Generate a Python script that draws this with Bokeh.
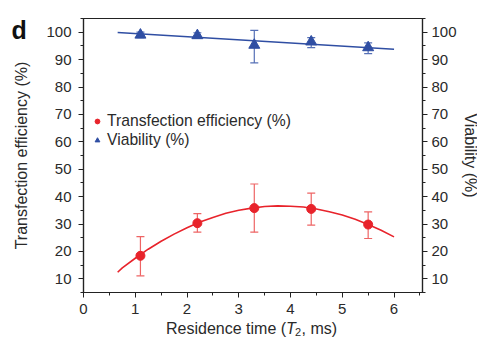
import math
from bokeh.plotting import figure
from bokeh.models import (Range1d, LinearAxis, Whisker, TeeHead, ColumnDataSource,
                          Legend, LegendItem, Label, FixedTicker)
from bokeh.embed import file_html
from bokeh.resources import INLINE

# data
times = [1.1, 2.2, 3.3, 4.4, 5.5]
transfection = [18.4, 30.3, 35.8, 35.5, 29.8]
transfection_upper = [25.4, 33.8, 44.6, 41.3, 34.4]
transfection_lower = [11.1, 27.0, 27.0, 29.6, 24.7]
viability = [99.0, 98.8, 95.3, 96.5, 94.4]
viability_upper = [100.0, 99.8, 100.7, 98.0, 96.1]
viability_lower = [98.0, 97.8, 88.8, 94.4, 92.2]

fit_x = [0.66, 0.75, 1.0, 1.25, 1.5, 1.75, 2.0, 2.25, 2.5, 2.75, 3.0, 3.25,
         3.5, 3.75, 4.0, 4.25, 4.5, 4.75, 5.0, 5.25, 5.5, 5.75, 6.0]
fit_transfection = [12.4, 14.0, 17.5, 20.8, 23.7, 26.3, 28.6, 30.7, 32.4, 33.9, 35.0, 35.8,
                    36.4, 36.6, 36.5, 36.2, 35.5, 34.5, 33.3, 31.7, 29.8, 27.7, 25.3]
fit_vx = [0.66, 6.0]
fit_viability = [99.9, 93.8]

x_ticks = [0, 1, 2, 3, 4, 5, 6]
y_ticks = [10, 20, 30, 40, 50, 60, 70, 80, 90, 100]

RED = "#e8232b"
RED_BAR = "#ee6464"
BLUE = "#2f4ea3"
BLUE_BAR = "#5670b6"
FONT = "Liberation Sans"
TXT = "#2a2a2a"

p = figure(frame_width=339, frame_height=274, output_backend="svg", toolbar_location=None,
           x_range=Range1d(0, 6.55), y_range=Range1d(5, 105),
           min_border_left=83, min_border_right=55, min_border_top=18, min_border_bottom=45)
p.xgrid.visible = False
p.ygrid.visible = False
p.outline_line_color = "#222222"
p.outline_line_width = 1.2
p.background_fill_color = "white"

def style_axis(ax):
    ax.axis_line_color = "#222222"
    ax.axis_line_width = 1.2
    ax.major_tick_line_color = "#222222"
    ax.minor_tick_line_color = "#222222"
    ax.major_tick_in = 0
    ax.major_tick_out = 5
    ax.minor_tick_in = 0
    ax.minor_tick_out = 3
    ax.major_label_text_font = FONT
    ax.major_label_text_font_size = "15px"
    ax.major_label_text_color = TXT
    ax.axis_label_text_font = FONT
    ax.axis_label_text_font_size = "16px"
    ax.axis_label_text_font_style = "normal"
    ax.axis_label_text_color = TXT

xax = p.xaxis[0]
xax.ticker = FixedTicker(ticks=x_ticks, minor_ticks=[0.5 + i for i in range(7)])
xax.major_label_standoff = 6
style_axis(xax)

yax = p.yaxis[0]
yax.ticker = FixedTicker(ticks=y_ticks, minor_ticks=[5 + 10 * i for i in range(11)])
yax.major_label_standoff = 7
style_axis(yax)

rax = LinearAxis(ticker=FixedTicker(ticks=y_ticks, minor_ticks=[5 + 10 * i for i in range(11)]),
                 axis_label="Viability (%)")
rax.axis_label_standoff = 2
rax.major_label_standoff = 4
style_axis(rax)
p.add_layout(rax, "right")

# fits
p.line(fit_x, fit_transfection, line_color=RED, line_width=1.6)
p.line(fit_vx, fit_viability, line_color=BLUE, line_width=1.6)

# error bars
src_t = ColumnDataSource(dict(x=times, y=transfection, up=transfection_upper, lo=transfection_lower))
src_v = ColumnDataSource(dict(x=times, y=viability, up=viability_upper, lo=viability_lower))
for src, col in ((src_t, RED_BAR), (src_v, BLUE_BAR)):
    w = Whisker(source=src, base="x", upper="up", lower="lo", line_color=col, line_width=1.2,
                upper_head=TeeHead(size=8, line_color=col, line_width=1.2),
                lower_head=TeeHead(size=8, line_color=col, line_width=1.2))
    p.add_layout(w)

r_t = p.scatter("x", "y", source=src_t, marker="circle", size=9, fill_color=RED, line_color=RED)
r_v = p.scatter("x", "y", source=src_v, marker="triangle", size=11, fill_color=BLUE, line_color=BLUE)

legend = Legend(items=[LegendItem(label="Transfection efficiency (%)", renderers=[r_t]),
                       LegendItem(label="Viability (%)", renderers=[r_v])],
                location=(8, 143), padding=0, margin=0, spacing=1,
                glyph_width=12, glyph_height=16, label_height=16, label_standoff=4,
                border_line_color=None, background_fill_alpha=0,
                label_text_font=FONT, label_text_font_size="15.7px", label_text_color=TXT)
p.add_layout(legend)

# y-axis title and panel letter, placed in the left side panel
p.add_layout(Label(x=21, y=155, x_units="canvas", y_units="canvas",
                   text="Transfection efficiency (%)", angle=math.pi / 2,
                   text_align="center", text_baseline="middle",
                   text_font=FONT, text_font_size="16px", text_color=TXT), "left")
p.add_layout(Label(x=11, y=29, x_units="canvas", y_units="canvas", text="d",
                   text_font=FONT, text_font_size="25px", text_font_style="bold",
                   text_baseline="middle", text_color="#111111"), "left")

# x-axis title with italic T and subscript 2
xlab = dict(x_units="canvas", y_units="canvas", text_font=FONT, text_color=TXT,
            text_baseline="middle", text_align="left")
p.add_layout(Label(x=165.5, y=328, text="Residence time (", text_font_size="16px", **xlab), "below")
p.add_layout(Label(x=285.5, y=328, text="T", text_font_size="16px", text_font_style="italic", **xlab), "below")
p.add_layout(Label(x=294.5, y=331, text="2", text_font_size="11px", **xlab), "below")
p.add_layout(Label(x=301, y=328, text=", ms)", text_font_size="16px", **xlab), "below")

open("out.html", "w").write(file_html(p, INLINE))
